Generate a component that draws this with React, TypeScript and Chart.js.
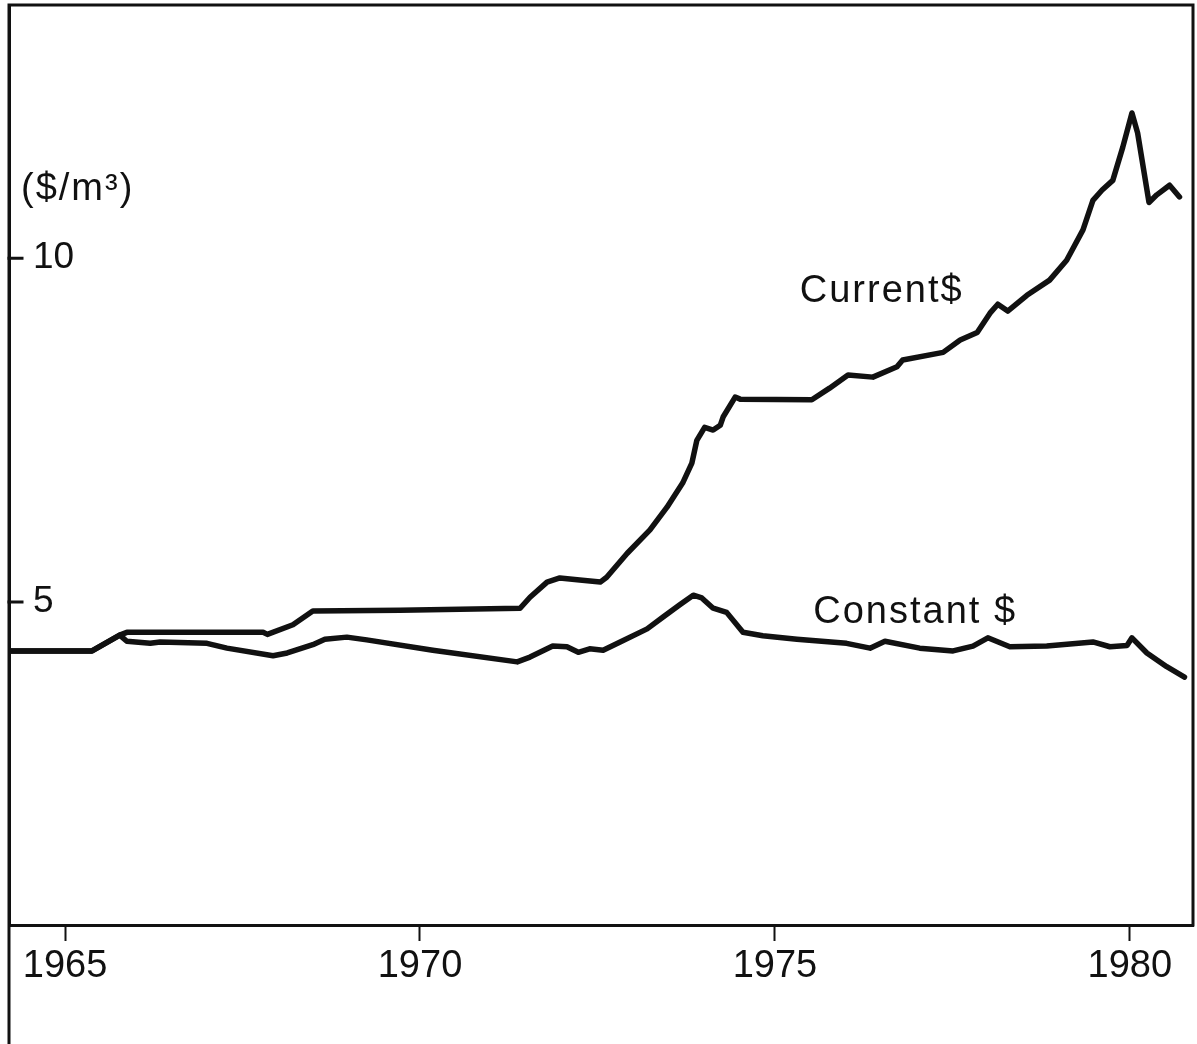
import React, { useEffect, useRef } from 'react';
import { Chart, registerables } from 'chart.js';

Chart.register(...registerables);

// ---- Data (years, $/m³) ----
const currentYears = [
  1964.21, 1965.38, 1965.77, 1965.87, 1967.79, 1967.85, 1968.21, 1968.49, 1969.72, 1971.41,
  1971.55, 1971.79, 1971.97, 1972.25, 1972.54, 1972.63, 1972.92, 1973.24, 1973.48, 1973.7,
  1973.83, 1973.9, 1974.01, 1974.13, 1974.23, 1974.27, 1974.44, 1974.51, 1975.52, 1975.77,
  1976.03, 1976.38, 1976.72, 1976.8, 1977.37, 1977.61, 1977.85, 1978.03, 1978.14, 1978.28,
  1978.55, 1978.87, 1979.11, 1979.34, 1979.48, 1979.61, 1979.76, 1979.9, 1980.03, 1980.11,
  1980.27, 1980.38, 1980.56, 1980.7,
];
const currentValues = [
  4.29, 4.29, 4.52, 4.56, 4.56, 4.53, 4.67, 4.87, 4.88, 4.91,
  5.07, 5.29, 5.35, 5.32, 5.29, 5.36, 5.71, 6.05, 6.38, 6.73,
  7.02, 7.35, 7.54, 7.5, 7.57, 7.69, 7.98, 7.95, 7.94, 8.11,
  8.3, 8.27, 8.42, 8.52, 8.63, 8.81, 8.92, 9.2, 9.33, 9.23,
  9.46, 9.68, 9.97, 10.41, 10.84, 10.99, 11.13, 11.61, 12.11, 11.82,
  10.81, 10.92, 11.06, 10.89,
];

const constantYears = [
  1964.21, 1965.38, 1965.77, 1965.87, 1966.2, 1966.34, 1967.0, 1967.28, 1967.93, 1968.13,
  1968.49, 1968.66, 1968.97, 1969.25, 1970.18, 1971.37, 1971.55, 1971.87, 1972.07, 1972.23,
  1972.39, 1972.58, 1972.82, 1973.2, 1973.42, 1973.66, 1973.85, 1973.97, 1974.13, 1974.32,
  1974.55, 1974.83, 1975.31, 1976.01, 1976.34, 1976.55, 1977.04, 1977.51, 1977.79, 1978.0,
  1978.31, 1978.83, 1979.48, 1979.72, 1979.96, 1980.03, 1980.24, 1980.52, 1980.77,
];
const constantValues = [
  4.29, 4.29, 4.52, 4.43, 4.4, 4.42, 4.4, 4.33, 4.22, 4.26,
  4.38, 4.46, 4.49, 4.45, 4.3, 4.13, 4.2, 4.36, 4.35, 4.27,
  4.32, 4.3, 4.42, 4.61, 4.78, 4.96, 5.1, 5.06, 4.91, 4.85,
  4.56, 4.51, 4.46, 4.4, 4.33, 4.43, 4.33, 4.29, 4.36, 4.48,
  4.35, 4.36, 4.42, 4.35, 4.37, 4.48, 4.26, 4.06, 3.91,
];

const xTickYears = [1965, 1970, 1975, 1980];
const yTickValues = [5, 10];
const unitLabel = '($/m³)';
const seriesNames = ['Current$', 'Constant $'];

const FONT_FAMILY = '"Liberation Sans", Arial, Helvetica, sans-serif';
const INK = '#111111';

const decorPlugin = {
  id: 'decor',
  afterDraw(chart: any) {
    const { ctx, chartArea, scales } = chart;
    const xs = scales.x;
    const ys = scales.y;
    ctx.save();
    ctx.strokeStyle = INK;
    ctx.lineWidth = 3;
    ctx.lineCap = 'square';
    // frame: left line to the bottom of the page, top line, right line
    ctx.beginPath();
    ctx.moveTo(chartArea.left, chart.height);
    ctx.lineTo(chartArea.left, chartArea.top);
    ctx.lineTo(chartArea.right, chartArea.top);
    ctx.lineTo(chartArea.right, chartArea.bottom);
    ctx.stroke();
    // inward y tick marks
    ctx.beginPath();
    for (const v of yTickValues) {
      const py = ys.getPixelForValue(v);
      ctx.moveTo(chartArea.left, py);
      ctx.lineTo(chartArea.left + 13, py);
    }
    ctx.stroke();
    // texts
    ctx.fillStyle = INK;
    ctx.font = `38px ${FONT_FAMILY}`;
    try { (ctx as any).letterSpacing = '2px'; } catch (e) {}
    ctx.textAlign = 'left';
    ctx.textBaseline = 'middle';
    ctx.fillText(unitLabel, chartArea.left + 12, ys.getPixelForValue(11.0));
    ctx.fillText(seriesNames[0], xs.getPixelForValue(1975.35), ys.getPixelForValue(9.51));
    ctx.fillText(seriesNames[1], xs.getPixelForValue(1975.54), ys.getPixelForValue(4.85));
    ctx.restore();
  },
};

export default function App() {
  const canvasRef = useRef<HTMLCanvasElement | null>(null);

  useEffect(() => {
    document.body.style.margin = '0';
    document.body.style.background = '#ffffff';
    const canvas = canvasRef.current;
    if (!canvas) return;

    const toPoints = (xsArr: number[], ysArr: number[]) =>
      xsArr.map((x, i) => ({ x, y: ysArr[i] }));

    const lineStyle = {
      borderColor: INK,
      borderWidth: 5.5,
      pointRadius: 0,
      tension: 0,
      borderJoinStyle: 'round' as const,
      borderCapStyle: 'round' as const,
      fill: false,
    };

    const chart = new Chart(canvas, {
      type: 'line',
      data: {
        datasets: [
          { label: seriesNames[0], data: toPoints(currentYears, currentValues), ...lineStyle },
          { label: seriesNames[1], data: toPoints(constantYears, constantValues), ...lineStyle },
        ],
      },
      options: {
        responsive: false,
        animation: false,
        events: [],
        layout: { padding: { left: 9, top: 5, right: 4, bottom: 0 } },
        plugins: {
          legend: { display: false },
          tooltip: { enabled: false },
          title: { display: false },
        },
        scales: {
          x: {
            type: 'linear',
            min: 1964.21,
            max: 1980.89,
            afterBuildTicks: (scale: any) => {
              scale.ticks = xTickYears.map((v) => ({ value: v }));
            },
            afterFit: (scale: any) => {
              scale.height = 119;
              scale.paddingLeft = 0;
              scale.paddingRight = 0;
            },
            grid: {
              drawOnChartArea: false,
              drawTicks: true,
              tickLength: 16,
              tickWidth: 2,
              tickColor: INK,
            },
            border: { display: true, color: INK, width: 3 },
            ticks: {
              color: INK,
              font: { family: FONT_FAMILY, size: 38 },
              padding: 3,
              maxRotation: 0,
              autoSkip: false,
              callback: (v: any) => String(v),
            },
          },
          y: {
            type: 'linear',
            min: 0.305,
            max: 13.68,
            afterBuildTicks: (scale: any) => {
              scale.ticks = yTickValues.map((v) => ({ value: v }));
            },
            afterFit: (scale: any) => {
              scale.width = 0;
              scale.paddingTop = 0;
              scale.paddingBottom = 0;
            },
            grid: { drawOnChartArea: false, drawTicks: false },
            border: { display: true, color: INK, width: 3 },
            ticks: {
              mirror: true,
              padding: 24,
              color: INK,
              font: { family: FONT_FAMILY, size: 37 },
              callback: (v: any) => String(v),
            },
          },
        },
      },
      plugins: [decorPlugin],
    });

    return () => {
      chart.destroy();
    };
  }, []);

  return (
    <canvas
      ref={canvasRef}
      width={1197}
      height={1044}
      style={{ display: 'block', width: '1197px', height: '1044px' }}
    />
  );
}
